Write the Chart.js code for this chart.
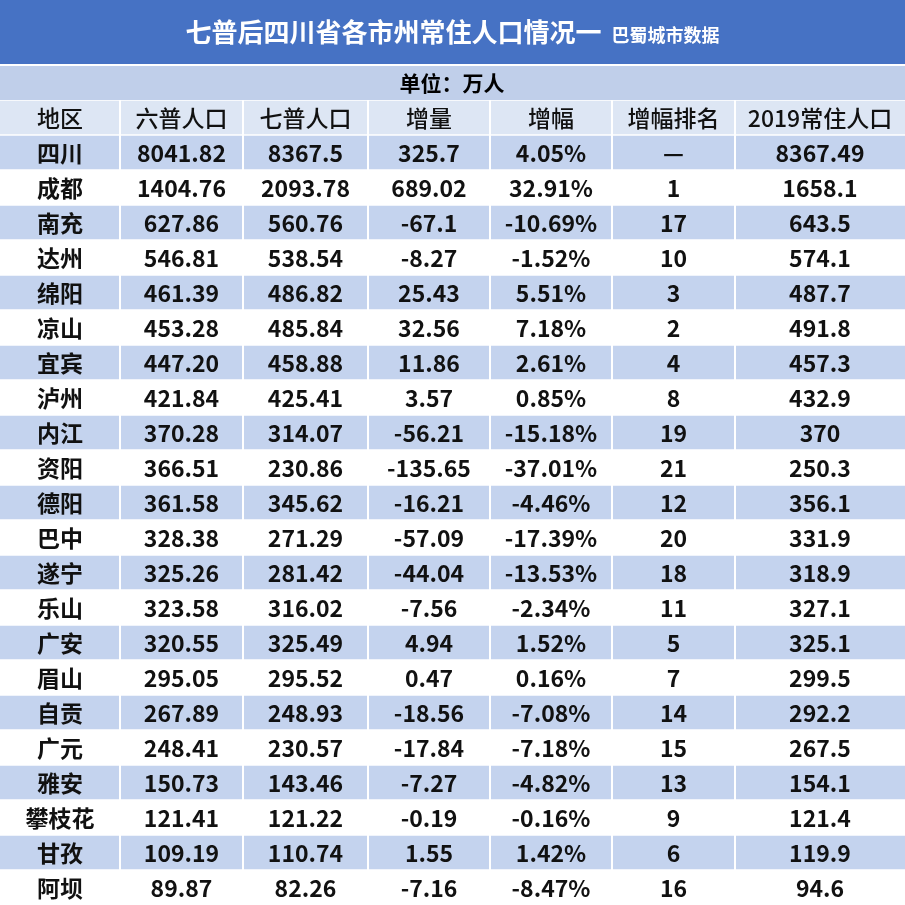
<!DOCTYPE html><html><head><meta charset="utf-8">
<script src="https://cdn.jsdelivr.net/npm/chart.js@4"></script>
<style>html,body{margin:0;padding:0;background:#fff}#w{width:905px;height:905px}</style></head><body><div id="w"><canvas id="c"></canvas></div>
<script>
const title='七普后四川省各市州常住人口情况一';
const subtitle='巴蜀城市数据';
const unit='单位：万人';
const headers=['地区','六普人口','七普人口','增量','增幅','增幅排名','2019常住人口'];
const regions=['四川','成都','南充','达州','绵阳','凉山','宜宾','泸州','内江','资阳','德阳','巴中','遂宁','乐山','广安','眉山','自贡','广元','雅安','攀枝花','甘孜','阿坝'];
const pop6=['8041.82','1404.76','627.86','546.81','461.39','453.28','447.20','421.84','370.28','366.51','361.58','328.38','325.26','323.58','320.55','295.05','267.89','248.41','150.73','121.41','109.19','89.87'];
const pop7=['8367.5','2093.78','560.76','538.54','486.82','485.84','458.88','425.41','314.07','230.86','345.62','271.29','281.42','316.02','325.49','295.52','248.93','230.57','143.46','121.22','110.74','82.26'];
const delta=['325.7','689.02','-67.1','-8.27','25.43','32.56','11.86','3.57','-56.21','-135.65','-16.21','-57.09','-44.04','-7.56','4.94','0.47','-18.56','-17.84','-7.27','-0.19','1.55','-7.16'];
const growth=['4.05%','32.91%','-10.69%','-1.52%','5.51%','7.18%','2.61%','0.85%','-15.18%','-37.01%','-4.46%','-17.39%','-13.53%','-2.34%','1.52%','0.16%','-7.08%','-7.18%','-4.82%','-0.16%','1.42%','-8.47%'];
const rank=['—','1','17','10','3','2','4','8','19','21','12','20','18','11','5','7','14','15','13','9','6','16'];
const pop2019=['8367.49','1658.1','643.5','574.1','487.7','491.8','457.3','432.9','370','250.3','356.1','331.9','318.9','327.1','325.1','299.5','292.2','267.5','154.1','121.4','119.9','94.6'];
const colEdges=[0,120,243,368,490,612,735,905];

const rowLabels=['header',...regions];
const cols=[regions,pop6,pop7,delta,growth,rank,pop2019];
const rowColors=rowLabels.map((r,i)=>i===0?'#dde6f4':(i%2===1?'#c4d3ee':'#ffffff'));
const F='"Noto Sans CJK SC","Noto Sans",sans-serif';

const tablePlugin={id:'tbl',
 beforeDraw(ch){const c=ch.ctx;c.save();
  c.fillStyle='#4672c4';c.fillRect(0,0,905,64);
  c.fillStyle='#c0cfea';c.fillRect(0,66,905,34);
  c.fillStyle='#fff';c.font='bold 26px '+F;c.textBaseline='middle';
  const tw=c.measureText(title).width;c.font='bold 18px '+F;const sw=c.measureText(subtitle).width;
  const x0=(905-tw-sw-10)/2;c.font='bold 26px '+F;c.textAlign='left';c.fillText(title,x0,32);
  c.font='bold 18px '+F;c.fillText(subtitle,x0+tw+10,35);
  c.fillStyle='#000';c.font='bold 21px '+F;c.textAlign='center';c.fillText(unit,452,83);
  c.restore();},
 afterDatasetsDraw(ch){const c=ch.ctx,xs=ch.scales.x,ys=ch.scales.y;c.save();
  c.textAlign='center';c.textBaseline='middle';c.fillStyle='#111';
  rowLabels.forEach((r,i)=>{const y=ys.getPixelForValue(i);
   for(let j=0;j<7;j++){const x=xs.getPixelForValue((colEdges[j]+colEdges[j+1])/2);
    const t=i===0?headers[j]:cols[j][i-1];
    c.font=(i===0?'500 23px ':'bold 23px ')+F;c.fillText(t,x,y+1);}
  });
  c.strokeStyle='#ffffff';c.lineWidth=2;
  for(let j=1;j<7;j++){const x=xs.getPixelForValue(colEdges[j]);c.beginPath();c.moveTo(x,ys.top);c.lineTo(x,ys.bottom);c.stroke();}
  c.restore();}};

new Chart(document.getElementById('c'),{type:'bar',
 data:{labels:rowLabels,datasets:[{data:rowLabels.map(()=>[0,colEdges[7]]),backgroundColor:rowColors,borderColor:'#ffffff',borderWidth:{top:1,bottom:1,left:0,right:0},borderSkipped:false,barPercentage:1,categoryPercentage:1}]},
 options:{indexAxis:'y',responsive:true,maintainAspectRatio:false,animation:false,
  layout:{padding:{top:100,left:0,right:0,bottom:0}},
  plugins:{legend:{display:false},tooltip:{enabled:false},title:{display:false}},
  scales:{x:{type:'linear',min:0,max:colEdges[7],display:false},y:{type:'category',display:false}}},
 plugins:[tablePlugin]});
</script></body></html>
